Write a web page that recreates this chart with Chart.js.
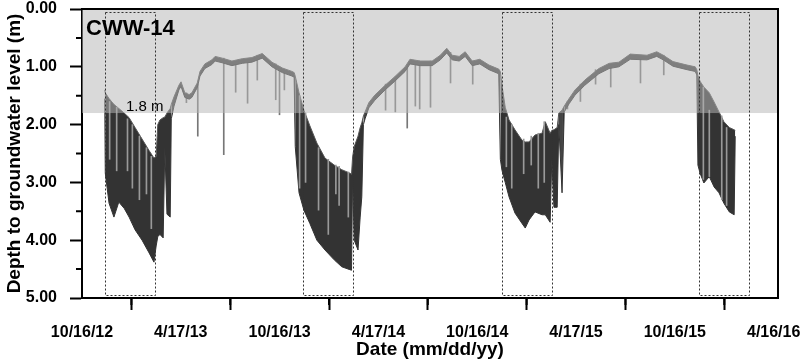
<!DOCTYPE html>
<html>
<head>
<meta charset="utf-8">
<script src="https://cdn.jsdelivr.net/npm/chart.js@4.4.1/dist/chart.umd.min.js"></script>
<style>
  body { margin: 0; background: #fff; }
  #wrap { width: 800px; height: 362px; }
</style>
</head>
<body>
<div id="wrap"><canvas id="gwChart"></canvas></div>
<script>
// days counted from 10/16/12, depth in m below ground
const days = [42, 43, 50, 59, 68, 78, 87, 98, 111, 124, 133, 137, 140, 144, 150, 153, 157, 163, 165, 170,
  179, 183, 190, 198, 203, 213, 218, 227, 240, 246, 259, 277, 296, 314, 333, 351, 370, 388, 392,
  394, 401, 410, 421, 434, 449, 466, 480, 495, 498, 500, 503, 510, 514, 517, 520, 523, 530, 541,
  560, 578, 597, 606, 625, 647, 662, 674, 684, 697, 708, 721, 735, 752, 770,
  773, 776, 782, 789, 800, 813, 819, 826, 837, 850, 856, 865, 868, 872, 878, 881, 887, 891, 900,
  911, 929, 955, 974, 992, 1013, 1044, 1062, 1074, 1092, 1118, 1133, 1136,
  1138, 1142, 1149, 1159, 1168, 1177, 1186, 1196, 1205, 1207];
const shallow = [1.40, 1.45, 1.55, 1.65, 1.72, 1.80, 1.88, 2.05, 2.25, 2.45, 2.58, 2.55, 2.00, 1.92, 1.88, 1.87, 1.80, 1.72, 1.65, 1.52,
  1.32, 1.26, 1.45, 1.48, 1.45, 1.28, 1.08, 0.95, 0.88, 0.82, 0.85, 0.90, 0.86, 0.84, 0.77, 0.92, 1.02, 1.08, 1.10,
  1.16, 1.45, 1.75, 2.02, 2.32, 2.58, 2.70, 2.78, 2.84, 2.86, 2.56, 2.38, 2.20, 2.05, 1.97, 1.85, 1.78, 1.62, 1.49,
  1.32, 1.17, 1.00, 0.87, 0.90, 0.90, 0.80, 0.68, 0.80, 0.82, 0.74, 0.90, 0.87, 0.97, 1.04,
  1.08, 1.32, 1.70, 1.92, 2.09, 2.27, 2.30, 2.30, 2.18, 2.15, 1.95, 2.15, 2.10, 2.09, 2.05, 1.80, 1.75, 1.68, 1.55,
  1.40, 1.23, 1.03, 0.94, 0.92, 0.78, 0.80, 0.74, 0.80, 0.91, 0.97, 1.00, 1.05,
  1.15, 1.25, 1.35, 1.45, 1.61, 1.78, 1.95, 2.05, 2.09, 2.10];
const deep = [1.55, 2.84, 3.36, 3.60, 3.34, 3.45, 3.60, 3.82, 4.00, 4.22, 4.38, 4.10, 3.94, 3.90, 3.96, 2.40, 3.55, 3.60, 1.90, 1.68,
  1.40, 1.34, 1.53, 1.56, 1.53, 1.36, 1.16, 1.03, 0.96, 0.90, 0.93, 0.98, 0.94, 0.92, 0.85, 1.00, 1.10, 1.16, 1.18,
  2.38, 3.18, 3.48, 3.71, 4.00, 4.17, 4.34, 4.46, 4.51, 4.52, 2.90, 4.00, 4.17, 3.60, 3.25, 2.00, 1.90, 1.71, 1.58,
  1.40, 1.25, 1.08, 0.95, 0.98, 0.98, 0.88, 0.76, 0.88, 0.90, 0.82, 0.98, 0.95, 1.05, 1.12,
  2.60, 2.79, 3.00, 3.25, 3.53, 3.71, 3.79, 3.65, 3.51, 3.56, 3.56, 3.69, 2.60, 3.43, 3.43, 2.00, 3.18, 1.78, 1.64,
  1.49, 1.32, 1.12, 1.03, 1.00, 0.87, 0.88, 0.82, 0.88, 0.99, 1.05, 1.08, 1.14,
  2.70, 2.84, 3.01, 2.90, 3.08, 3.18, 3.36, 3.51, 3.56, 2.20];

// short drawdown spikes during the wet season
const spikeDays = [192, 213, 261, 283, 305, 323, 357, 364, 373, 560, 578, 600, 615, 623, 643, 680, 721, 896, 920, 948, 976, 1031, 1074];
const spikeTop = [1.45, 1.30, 0.85, 0.90, 0.86, 0.80, 0.95, 1.00, 1.05, 1.30, 1.17, 1.00, 0.90, 0.90, 0.90, 0.75, 0.90, 1.60, 1.30, 1.05, 0.95, 0.80, 0.80];
const spikeBottom = [1.62, 2.20, 2.52, 1.44, 1.63, 1.23, 1.57, 1.83, 1.40, 1.75, 1.78, 2.06, 1.68, 1.73, 1.70, 1.28, 1.30, 1.73, 1.60, 1.30, 1.35, 1.28, 1.14];

// partial recoveries inside the pumping seasons
const streakDays = [52, 65, 85, 94, 107, 120, 129, 403, 414, 438, 456, 470, 476, 493, 785, 795, 817, 831, 844, 855, 1149, 1160, 1183, 1192];
const streakTop = [1.60, 1.70, 1.90, 2.00, 2.20, 2.40, 2.55, 1.50, 1.80, 2.40, 2.60, 2.70, 2.72, 2.82, 1.87, 2.00, 2.25, 2.20, 2.15, 1.95, 1.35, 1.75, 1.85, 2.05];
const streakBottom = [2.60, 2.80, 2.80, 3.10, 3.30, 3.20, 3.80, 3.10, 3.00, 3.48, 3.90, 3.20, 3.40, 3.60, 2.73, 3.10, 2.85, 2.70, 3.10, 3.00, 2.95, 2.90, 3.30, 3.40];

const tickDays = [0, 182.57, 365.14, 547.71, 730.29, 912.86, 1095.43, 1278];
const tickLabels = ['10/16/12', '4/17/13', '10/16/13', '4/17/14', '10/16/14', '4/17/15', '10/16/15', '4/16/16'];
const boxStart = [43, 408, 776, 1140];
const boxEnd = [135, 501, 868, 1232];
const threshold = 1.8;

const FONT = '"Liberation Sans", Arial, sans-serif';

const decor = {
  id: 'decor',
  afterDatasetsDraw(chart) {
    const {ctx, chartArea: a, scales: {x, y}} = chart;
    ctx.save();
    const yt = y.getPixelForValue(threshold);
    ctx.fillStyle = 'rgba(182,182,182,0.52)';
    ctx.fillRect(a.left, a.top, a.right - a.left, yt - a.top);

    ctx.strokeStyle = '#333';
    ctx.lineWidth = 1;
    ctx.setLineDash([2, 2]);
    boxStart.forEach((s, i) => {
      const x0 = Math.round(x.getPixelForValue(s)) + 0.5;
      const x1 = Math.round(x.getPixelForValue(boxEnd[i])) + 0.5;
      const y0 = Math.round(y.getPixelForValue(0.05)) + 0.5;
      const y1 = Math.round(y.getPixelForValue(4.95)) + 0.5;
      ctx.strokeRect(x0, y0, x1 - x0, y1 - y0);
    });
    ctx.setLineDash([]);

    // frame top + right
    ctx.strokeStyle = '#000';
    ctx.lineWidth = 2;
    ctx.beginPath();
    ctx.moveTo(a.left, a.top);
    ctx.lineTo(a.right, a.top);
    ctx.lineTo(a.right, a.bottom);
    ctx.stroke();

    // minor ticks
    ctx.beginPath();
    for (let i = 0; i < tickDays.length - 1; i++) {
      const px = x.getPixelForValue((tickDays[i] + tickDays[i + 1]) / 2);
      ctx.moveTo(px, a.bottom);
      ctx.lineTo(px, a.bottom + 7);
    }
    for (let v = 0.5; v < 5; v += 1) {
      const py = y.getPixelForValue(v);
      ctx.moveTo(a.left, py);
      ctx.lineTo(a.left - 6, py);
    }
    ctx.stroke();

    ctx.fillStyle = '#000';
    ctx.textBaseline = 'alphabetic';
    ctx.font = 'bold 22px ' + FONT;
    ctx.fillText('CWW-14', a.left + 4, a.top + 26);
    ctx.font = '15px ' + FONT;
    ctx.fillText(threshold.toFixed(1) + ' m', a.left + 44, yt - 2);
    ctx.restore();
  }
};

new Chart(document.getElementById('gwChart'), {
  type: 'line',
  data: {
    datasets: [
      {
        label: 'streaks',
        type: 'bar',
        data: streakDays.map((d, i) => ({x: d, y: [streakTop[i], streakBottom[i]]})),
        backgroundColor: '#999',
        barThickness: 1,
        order: 0
      },
      {
        label: 'shallow',
        data: days.map((d, i) => ({x: d, y: shallow[i]})),
        borderColor: '#555',
        borderWidth: 1,
        pointRadius: 0,
        tension: 0,
        fill: false,
        order: 1
      },
      {
        label: 'deep',
        data: days.map((d, i) => ({x: d, y: deep[i]})),
        borderColor: '#333',
        borderWidth: 1,
        pointRadius: 0,
        tension: 0,
        fill: '-1',
        backgroundColor: '#333',
        segment: {
          backgroundColor: c => (deep[c.p0DataIndex] - shallow[c.p0DataIndex] < 0.3 ? '#444' : '#333')
        },
        order: 2
      },
      {
        type: 'bar',
        label: 'spikes',
        data: spikeDays.map((d, i) => ({x: d, y: [spikeTop[i], spikeBottom[i]]})),
        backgroundColor: '#777',
        barThickness: 1,
        order: 3
      }
    ]
  },
  options: {
    responsive: true,
    maintainAspectRatio: false,
    animation: false,
    layout: {padding: {top: 9, right: 22, left: 0, bottom: 0}},
    plugins: {legend: {display: false}, tooltip: {enabled: false}},
    scales: {
      x: {
        type: 'linear',
        min: 0,
        max: 1286,
        offset: false,
        afterBuildTicks: s => { s.ticks = tickDays.map(v => ({value: v})); },
        afterFit: s => { s.height = 64; s.paddingLeft = 0; s.paddingRight = 0; },
        ticks: {
          autoSkip: false,
          maxRotation: 0,
          padding: 13,
          color: '#000',
          font: {family: FONT, size: 16, weight: 'bold'},
          callback: (v, i) => tickLabels[i]
        },
        grid: {drawOnChartArea: false, tickLength: 12, tickWidth: 2, tickColor: '#000', color: '#000'},
        border: {display: true, color: '#000', width: 2},
        title: {
          display: true,
          text: 'Date (mm/dd/yy)',
          color: '#000',
          font: {family: FONT, size: 19, weight: 'bold'},
          padding: {top: 0, bottom: 1}
        }
      },
      y: {
        reverse: true,
        min: 0,
        max: 5,
        afterFit: s => { s.width = 82; s.paddingTop = 0; s.paddingBottom = 0; },
        ticks: {
          stepSize: 1,
          padding: 13,
          color: '#000',
          font: {family: FONT, size: 16, weight: 'bold'},
          callback: v => v.toFixed(2)
        },
        grid: {drawOnChartArea: false, tickLength: 12, tickWidth: 2, tickColor: '#000', color: '#000'},
        border: {display: true, color: '#000', width: 2},
        title: {
          display: true,
          text: 'Depth to groundwater level (m)',
          color: '#000',
          font: {family: FONT, size: 19, weight: 'bold'},
          padding: {top: 3, bottom: 0}
        }
      }
    }
  },
  plugins: [decor]
});
</script>
</body>
</html>
